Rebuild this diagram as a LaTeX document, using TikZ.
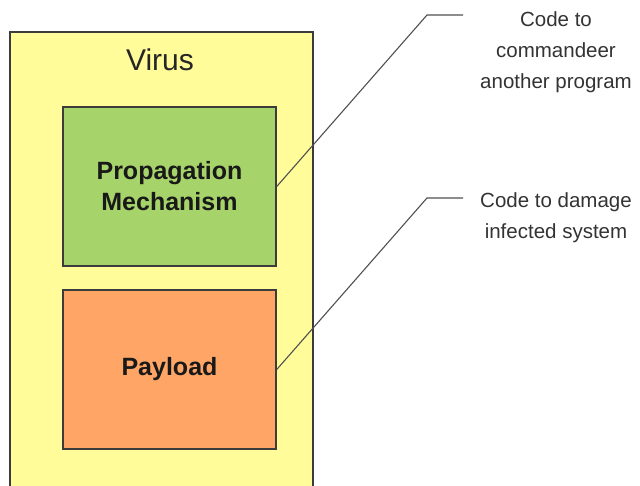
\documentclass[tikz,border=0pt]{standalone}
\usepackage{fontspec}
\setmainfont{Liberation Sans}
\usepackage{tikz}
\definecolor{shell}{RGB}{255,252,153}
\definecolor{spread}{RGB}{166,211,106}
\definecolor{harm}{RGB}{255,166,102}
\definecolor{edge}{RGB}{60,60,60}
\definecolor{lead}{RGB}{80,80,80}
\tikzset{
  part/.style={draw=edge, line width=1.5pt, minimum width=213pt, minimum height=159pt,
    inner sep=0pt, align=center, text=black!90, font=\fontsize{25}{31}\selectfont\bfseries},
  callout/.style={align=center, text=black!80, font=\fontsize{20.5}{31}\selectfont},
  leader/.style={draw=lead, line width=1.1pt}
}

\begin{document}
\begin{tikzpicture}[x=1pt,y=1pt]
\useasboundingbox (0,0) rectangle (640,485);
\node[draw=edge, fill=shell, line width=1.5pt, minimum width=303pt, minimum height=473pt,
  inner sep=0pt] (virus) at (161.5,216.5) {};
\node[font=\fontsize{30}{36}\selectfont, text=black!85] (title) at (160,425) {Virus};
\node[part, fill=spread] (prop) at (169.5,298.5) {Propagation\\Mechanism};
\node[part, fill=harm] (pay) at (169.5,115.5) {Payload};
\coordinate (kneeA) at (427,470);
\coordinate (endA) at (463,470);
\coordinate (kneeB) at (427,287);
\coordinate (endB) at (463,287);
\draw[leader] (prop.east) -- (kneeA) -- (endA);
\draw[leader] (pay.east) -- (kneeB) -- (endB);
\node[callout] (commandeer) at (556,433) {Code to\\commandeer\\another program};
\node[callout] (damage) at (556,267) {Code to damage\\infected system};
\end{tikzpicture}
\end{document}
